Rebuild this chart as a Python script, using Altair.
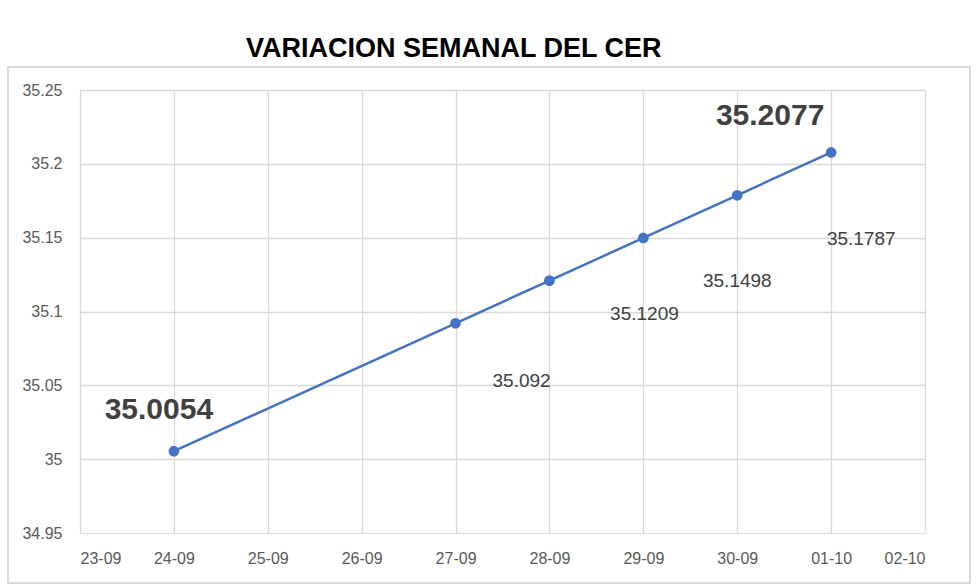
import altair as alt
import pandas as pd

dates = ["2021-09-24", "2021-09-27", "2021-09-28", "2021-09-29", "2021-09-30", "2021-10-01"]
values = [35.0054, 35.092, 35.1209, 35.1498, 35.1787, 35.2077]
labels = ["35.0054", "35.092", "35.1209", "35.1498", "35.1787", "35.2077"]
tick_days = [(2021, 9, 23), (2021, 9, 24), (2021, 9, 25), (2021, 9, 26), (2021, 9, 27),
             (2021, 9, 28), (2021, 9, 29), (2021, 9, 30), (2021, 10, 1), (2021, 10, 2)]
y_ticks = [34.95, 35.0, 35.05, 35.1, 35.15, 35.2, 35.25]

# label styling/offsets (pixels)
label_dx = [-15, 66, 95, 94, 124, -61]
label_dy = [-41, 58, 33, 43, 44, -36]
label_big = [True, False, False, False, False, True]

df = pd.DataFrame({"date": dates, "value": values, "label": labels})

W, H = 845, 443
FONT = "Liberation Sans"
GRID = "#d9d9d9"

xscale = alt.Scale(type="utc", domain=[alt.DateTime(year=2021, month=9, date=23, utc=True),
                                        alt.DateTime(year=2021, month=10, date=2, utc=True)])
yscale = alt.Scale(domain=[34.95, 35.25], zero=False, nice=False)

xenc = alt.X("date:T", scale=xscale, title=None,
             axis=alt.Axis(values=[alt.DateTime(year=a, month=b, date=c, utc=True) for a, b, c in tick_days],
                           labelExpr="utcFormat(datum.value, '%d-%m')", grid=True, gridColor=GRID, gridWidth=1.3,
                           ticks=False, domain=False, labelPadding=17, labelFontSize=16,
                           labelColor="#595959", labelFont=FONT))
yenc = alt.Y("value:Q", scale=yscale, title=None,
             axis=alt.Axis(values=y_ticks, format="~g", grid=True, gridColor=GRID, gridWidth=1.3,
                           gridOpacity={"condition": {"test": "datum.value < 34.96", "value": 0}, "value": 1},
                           ticks=False, domain=False, labelPadding=18, labelFontSize=16,
                           labelColor="#595959", labelFont=FONT))

base = alt.Chart(df)

border = base.mark_rect(fill=None, stroke=GRID, strokeWidth=1.5).encode(
    x=alt.value(-72), x2=alt.value(890), y=alt.value(-23), y2=alt.value(493))

line = base.mark_line(color="#4472C4", strokeWidth=2.5).encode(x=xenc, y=yenc)
pts = base.mark_circle(color="#4472C4", size=115, opacity=1).encode(x=xenc, y=yenc)

layers = [border, line, pts]
for i, lab in enumerate(labels):
    big = label_big[i]
    t = base.transform_filter(alt.datum.label == lab).mark_text(
        dx=label_dx[i], dy=label_dy[i], font=FONT,
        fontSize=30 if big else 19, fontWeight="bold" if big else "normal",
        color="#404040", align="center", baseline="middle"
    ).encode(x=xenc, y=yenc, text="label:N")
    layers.append(t)

chart = alt.layer(*layers).properties(
    width=W, height=H,
    title=alt.TitleParams("VARIACION SEMANAL DEL CER", anchor="start", frame="group", dx=166, offset=3,
                          font=FONT, fontSize=27, fontWeight="bold", color="#000000"),
    autosize=alt.AutoSizeParams(type="none"),
    padding={"left": 80, "top": 90, "right": 55, "bottom": 55},
).configure_view(stroke=None).configure(background="white")

chart.save("out.html", embed_options={"renderer": "svg", "actions": False})
